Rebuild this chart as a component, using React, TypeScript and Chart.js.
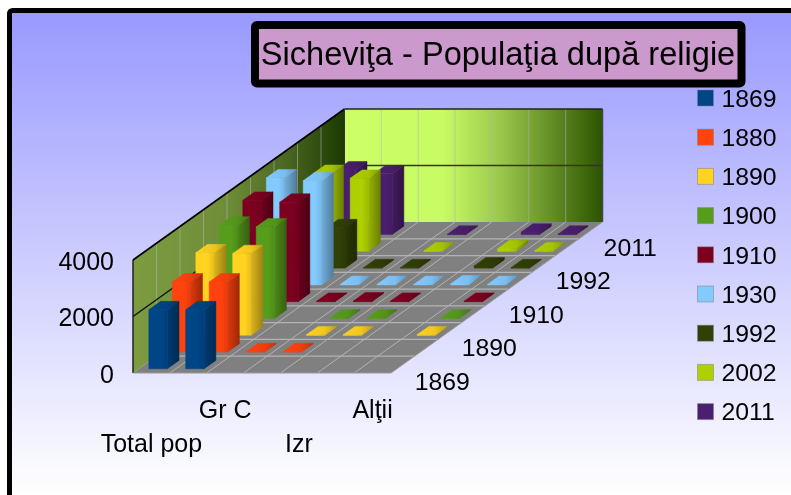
import React, { useEffect, useRef } from "react";
import { Chart, registerables } from "chart.js";

Chart.register(...registerables);

const FONT = "'Liberation Sans', Arial, sans-serif";
const titleText = "Sicheviţa - Populaţia după religie";
const categories = ["Total pop", "", "Gr C", "", "Izr", "", "Alţii"];
const seriesNames = ["1869", "1880", "1890", "1900", "1910", "1930", "1992", "2002", "2011"];
const depthLabels = ["1869", "", "1890", "", "1910", "", "1992", "", "2011"];
const yTicks = [0, 2000, 4000];
const colors = ["#004586", "#ff420e", "#ffd320", "#579d1c", "#7e0021", "#83caff", "#314004", "#aecf00", "#4b1f6f"];

const v1869 = [2090, 2090, 0, 0, 0, 0, 0];
const v1880 = [2480, 2480, 10, 10, 0, 0, 0];
const v1890 = [2920, 2890, 0, 15, 15, 0, 15];
const v1900 = [3300, 3245, 0, 15, 15, 0, 15];
const v1910 = [3590, 3520, 15, 25, 15, 0, 15];
const v1930 = [3790, 3690, 15, 15, 15, 35, 15];
const v1992 = [1500, 1430, 15, 15, 0, 80, 15];
const v2002 = [2760, 2585, 0, 15, 0, 95, 15];
const v2011 = [2290, 2150, 0, 15, 0, 85, 15];
const allSeries = [v1869, v1880, v1890, v1900, v1910, v1930, v1992, v2002, v2011];

function shade(hex: string, k: number) {
  const n = parseInt(hex.slice(1), 16);
  const f = (c: number) => Math.round(Math.min(255, c * k));
  return `rgb(${f((n >> 16) & 255)},${f((n >> 8) & 255)},${f(n & 255)})`;
}

// oblique projection of the floor depth
const DEPTH_DX = 211.5;
const DEPTH_DY = 151;

const plugin3d = {
  id: "plot3d",
  beforeDraw(chart: any) {
    const { ctx, width, height } = chart;
    ctx.save();
    ctx.fillStyle = "#fff";
    ctx.fillRect(0, 0, width, height);
    const g = ctx.createLinearGradient(0, 13, 0, height);
    g.addColorStop(0, "#9999ff");
    g.addColorStop(1, "#ffffff");
    ctx.beginPath();
    ctx.roundRect(9.5, 10.5, width + 40, height + 40, 3);
    ctx.fillStyle = g;
    ctx.fill();
    ctx.lineWidth = 5;
    ctx.strokeStyle = "#000";
    ctx.stroke();
    ctx.restore();
  },
  beforeDatasetsDraw(chart: any) {
    const { ctx, scales } = chart;
    const { x, y, z } = scales;
    const proj = (px: number, py: number, d: number) => {
      const f = (d - z.min) / (z.max - z.min);
      return [px + f * DEPTH_DX, py - f * DEPTH_DY];
    };
    const poly = (pts: number[][], fill: any, seam?: boolean) => {
      ctx.beginPath();
      pts.forEach((p, i) => (i ? ctx.lineTo(p[0], p[1]) : ctx.moveTo(p[0], p[1])));
      ctx.closePath();
      ctx.fillStyle = fill;
      ctx.fill();
      if (seam) {
        ctx.strokeStyle = fill;
        ctx.lineWidth = 0.5;
        ctx.stroke();
      }
    };
    const line = (a: number[], b: number[], col: string, w: number) => {
      ctx.beginPath();
      ctx.moveTo(a[0], a[1]);
      ctx.lineTo(b[0], b[1]);
      ctx.strokeStyle = col;
      ctx.lineWidth = w;
      ctx.stroke();
    };
    const L = x.left;
    const R = x.right;
    const B = y.getPixelForValue(0);
    const T = y.getPixelForValue(y.max);
    const zMax = z.max;
    const nCat = categories.length;
    const cw = (R - L) / nCat;
    ctx.save();

    // left wall
    const lg = ctx.createLinearGradient(L, 0, proj(L, 0, zMax)[0], 0);
    lg.addColorStop(0, "#7d9c40");
    lg.addColorStop(0.45, "#6f8c38");
    lg.addColorStop(0.75, "#47631f");
    lg.addColorStop(1, "#1b3a00");
    poly([[L, B], [L, T], proj(L, T, zMax), proj(L, B, zMax)], lg);
    // back wall
    const bl = proj(L, B, zMax);
    const br = proj(R, B, zMax);
    const bg = ctx.createLinearGradient(bl[0], 0, br[0], 0);
    bg.addColorStop(0, "#ccff66");
    bg.addColorStop(0.38, "#c8fb64");
    bg.addColorStop(0.6, "#9cc94c");
    bg.addColorStop(1, "#2c5400");
    poly([bl, proj(L, T, zMax), proj(R, T, zMax), br], bg);
    // floor
    poly([[L, B], [R, B], br, bl], "#808080");

    // grid
    const gridCol = "#b3b3b3";
    for (let d = 1; d < zMax; d++) {
      line(proj(L, B, d), proj(R, B, d), gridCol, 1.2);
      ctx.globalAlpha = 0.55;
      line(proj(L, B, d), proj(L, T, d), gridCol, 1);
      ctx.globalAlpha = 1;
    }
    for (let c = 1; c < nCat; c++) {
      const px = L + c * cw;
      line([px, B], proj(px, B, zMax), gridCol, 1);
      ctx.globalAlpha = 0.55;
      line(proj(px, B, zMax), proj(px, T, zMax), gridCol, 1);
      ctx.globalAlpha = 1;
    }
    // value lines on the walls
    const mid = y.getPixelForValue(yTicks[1]);
    line([L, mid], proj(L, mid, zMax), "#111", 1.5);
    line(proj(L, mid, zMax), proj(R, mid, zMax), "#333", 1.5);
    // wall outlines
    line([L, B], [L, T], "#222", 1.5);
    line([L, T], proj(L, T, zMax), "#000", 1.6);
    line(proj(L, T, zMax), proj(R, T, zMax), "#222", 1.5);
    line(proj(R, T, zMax), proj(R, B, zMax), "#444", 1.5);
    line(proj(L, T, zMax), proj(L, B, zMax), "#333", 1);
    line([L, B], [R, B], "#999", 1);
    line([R, B], proj(R, B, zMax), "#999", 1);

    // bars, back to front
    for (let s = chart.data.datasets.length - 1; s >= 0; s--) {
      const ds = chart.data.datasets[s];
      const col = colors[s];
      ds.data.forEach((v: number, c: number) => {
        if (!v) return;
        const cx = x.getPixelForValue(c);
        const x0 = cx - cw * 0.23;
        const x1 = cx + cw * 0.27;
        const d0 = s + 0.25;
        const d1 = s + 0.75;
        const top = y.getPixelForValue(v);
        const a = proj(x0, B, d0);
        const b = proj(x1, B, d0);
        const b2 = proj(x1, B, d1);
        const at = proj(x0, top, d0);
        const bt = proj(x1, top, d0);
        const b2t = proj(x1, top, d1);
        const a2t = proj(x0, top, d1);
        const sg = ctx.createLinearGradient(b[0], 0, b2[0], 0);
        sg.addColorStop(0, shade(col, 0.86));
        sg.addColorStop(1, shade(col, 0.62));
        poly([b, b2, b2t, bt], sg, true);
        const tg = ctx.createLinearGradient(at[0], 0, b2t[0], 0);
        tg.addColorStop(0, shade(col, 1.0));
        tg.addColorStop(0.6, shade(col, 0.94));
        tg.addColorStop(1, shade(col, 0.76));
        poly([at, bt, b2t, a2t], tg, true);
        const fg = ctx.createLinearGradient(a[0], 0, b[0], 0);
        fg.addColorStop(0, col);
        fg.addColorStop(0.65, col);
        fg.addColorStop(1, shade(col, 0.9));
        poly([a, b, bt, at], fg, true);
      });
    }

    // depth labels
    ctx.fillStyle = "#000";
    ctx.font = `24.8px ${FONT}`;
    ctx.textAlign = "center";
    ctx.textBaseline = "middle";
    depthLabels.forEach((t, i) => {
      if (!t) return;
      const p = proj(R, B, i + 0.5);
      ctx.fillText(t, p[0] + 39.5, p[1] + 18.5);
    });
    ctx.restore();
    return false;
  },
  afterDraw(chart: any) {
    const { ctx } = chart;
    ctx.save();
    // legend
    ctx.textAlign = "left";
    ctx.textBaseline = "middle";
    ctx.font = `24.8px ${FONT}`;
    chart.data.datasets.forEach((ds: any, i: number) => {
      const top = 90 + i * 39.2;
      ctx.fillStyle = colors[i];
      ctx.fillRect(697.5, top, 16, 16);
      ctx.strokeStyle = "rgba(128,128,128,0.5)";
      ctx.lineWidth = 1;
      ctx.strokeRect(697.5, top, 16, 16);
      ctx.fillStyle = "#000";
      ctx.fillText(ds.label, 721.5, top + 10);
    });
    // title box
    ctx.beginPath();
    ctx.roundRect(255, 25, 486.5, 58.5, 2);
    ctx.fillStyle = "#cc99cc";
    ctx.fill();
    ctx.lineWidth = 8;
    ctx.strokeStyle = "#000";
    ctx.stroke();
    ctx.fillStyle = "#000";
    ctx.font = `32.6px ${FONT}`;
    ctx.textAlign = "center";
    ctx.fillText(titleText, 498, 56);
    ctx.restore();
  },
};

export default function App() {
  const ref = useRef<HTMLCanvasElement>(null);
  useEffect(() => {
    const chart = new Chart(ref.current as HTMLCanvasElement, {
      type: "bar",
      data: {
        labels: categories,
        datasets: seriesNames.map((n, i) => ({
          label: n,
          data: allSeries[i],
          backgroundColor: colors[i],
        })),
      },
      options: {
        responsive: false,
        animation: false,
        events: [],
        layout: { padding: { left: 0, top: 260, right: 400, bottom: 0 } },
        plugins: { legend: { display: false }, title: { display: false }, tooltip: { enabled: false } },
        scales: {
          x: {
            type: "category",
            grid: { display: false },
            border: { display: false },
            afterFit: (s: any) => {
              s.height = 122;
            },
            ticks: {
              autoSkip: false,
              maxRotation: 0,
              minRotation: 0,
              padding: 13,
              color: "#000",
              font: { family: FONT, size: 25, lineHeight: 1.36 },
              callback: (_: any, i: number) =>
                i % 4 === 0 ? ["", categories[i]] : categories[i],
            },
          },
          y: {
            min: 0,
            max: yTicks[2],
            grid: { display: false },
            border: { display: false },
            afterFit: (s: any) => {
              s.width = 133;
            },
            afterBuildTicks: (s: any) => {
              s.ticks = yTicks.map((value) => ({ value }));
            },
            ticks: {
              padding: 11,
              labelOffset: 3,
              color: "#000",
              font: { family: FONT, size: 25 },
              callback: (v: any) => String(v),
            },
          },
          z: { type: "linear", display: false, position: "bottom", min: 0, max: seriesNames.length },
        },
      },
      plugins: [plugin3d],
    } as any);
    return () => chart.destroy();
  }, []);
  return (
    <canvas
      ref={ref}
      width={791}
      height={495}
      style={{ position: "fixed", left: 0, top: 0, width: 791, height: 495, display: "block" }}
    />
  );
}
